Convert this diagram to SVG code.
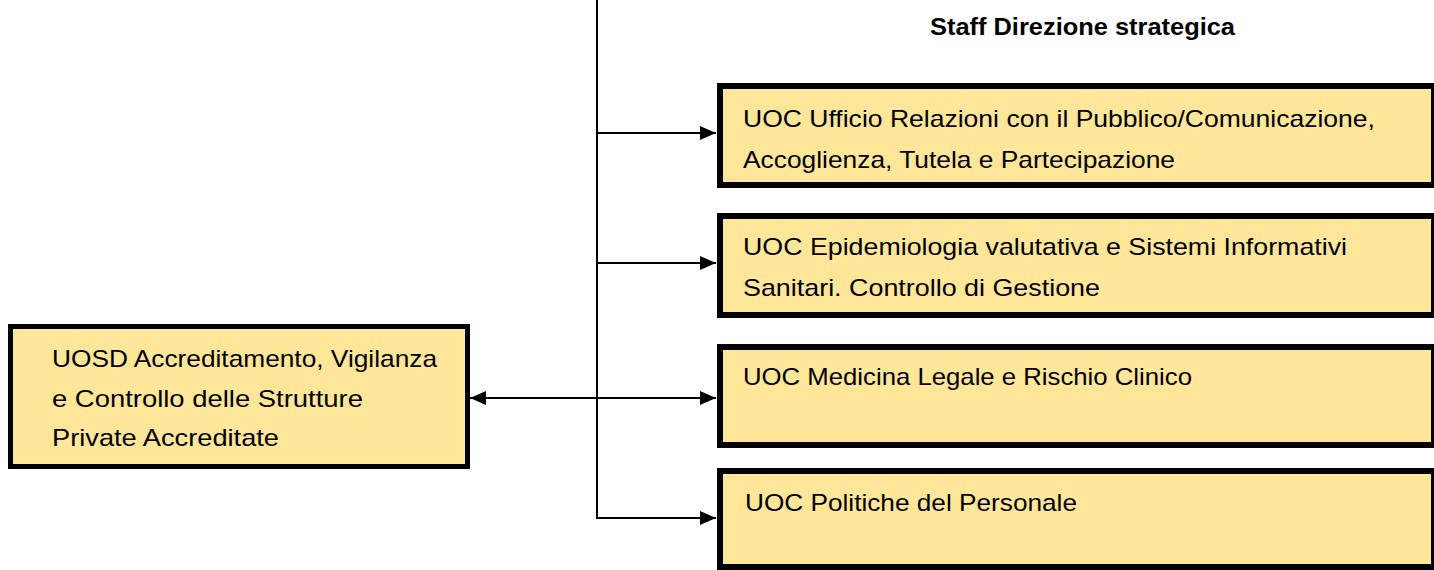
<svg xmlns="http://www.w3.org/2000/svg" width="1434" height="570" viewBox="0 0 1434 570">
<style>
.box{fill:#FFE699;stroke:#000;stroke-width:6}
.lbl{font-family:"Liberation Sans",Arial,sans-serif;font-size:24px;fill:#000}
.ttl{font-family:"Liberation Sans",Arial,sans-serif;font-size:24px;font-weight:bold;fill:#000}
.ln{stroke:#000;stroke-width:2;fill:none}
</style>
<defs>
<marker id="ah" viewBox="0 0 16 14" refX="16" refY="7" markerWidth="16" markerHeight="14" markerUnits="userSpaceOnUse" orient="auto-start-reverse">
<path d="M0,0 L16,7 L0,14 Z" fill="#000"/>
</marker>
</defs>
<rect width="1434" height="570" fill="#fff"/>
<text class="ttl" x="930" y="35" textLength="305" lengthAdjust="spacingAndGlyphs">Staff Direzione strategica</text>
<g id="connectors">
<path class="ln" d="M597,0 V519"/>
<path class="ln" d="M596,133 H716" marker-end="url(#ah)"/>
<path class="ln" d="M596,263 H716" marker-end="url(#ah)"/>
<path class="ln" d="M470,398 H716" marker-start="url(#ah)" marker-end="url(#ah)"/>
<path class="ln" d="M596,518 H716" marker-end="url(#ah)"/>
</g>
<g id="uoc-urp">
<rect class="box" x="720" y="86" width="714" height="99"/>
<text class="lbl" x="743" y="127" textLength="632" lengthAdjust="spacingAndGlyphs">UOC Ufficio Relazioni con il Pubblico/Comunicazione,</text>
<text class="lbl" x="743" y="168" textLength="432" lengthAdjust="spacingAndGlyphs">Accoglienza, Tutela e Partecipazione</text>
</g>
<g id="uoc-epidemiologia">
<rect class="box" x="720" y="216" width="714" height="99"/>
<text class="lbl" x="743" y="255" textLength="604" lengthAdjust="spacingAndGlyphs">UOC Epidemiologia valutativa e Sistemi Informativi</text>
<text class="lbl" x="743" y="296" textLength="357" lengthAdjust="spacingAndGlyphs">Sanitari. Controllo di Gestione</text>
</g>
<g id="uoc-medicina-legale">
<rect class="box" x="720" y="347" width="714" height="98"/>
<text class="lbl" x="743" y="385" textLength="449" lengthAdjust="spacingAndGlyphs">UOC Medicina Legale e Rischio Clinico</text>
</g>
<g id="uoc-politiche">
<rect class="box" x="720" y="471" width="714" height="96"/>
<text class="lbl" x="745" y="511" textLength="332" lengthAdjust="spacingAndGlyphs">UOC Politiche del Personale</text>
</g>
<g id="uosd-accreditamento">
<rect class="box" x="10.5" y="326.5" width="457" height="140" style="stroke-width:5"/>
<text class="lbl" x="52" y="367" textLength="385" lengthAdjust="spacingAndGlyphs">UOSD Accreditamento, Vigilanza</text>
<text class="lbl" x="52" y="407" textLength="311" lengthAdjust="spacingAndGlyphs">e Controllo delle Strutture</text>
<text class="lbl" x="52" y="446" textLength="227" lengthAdjust="spacingAndGlyphs">Private Accreditate</text>
</g>
</svg>
